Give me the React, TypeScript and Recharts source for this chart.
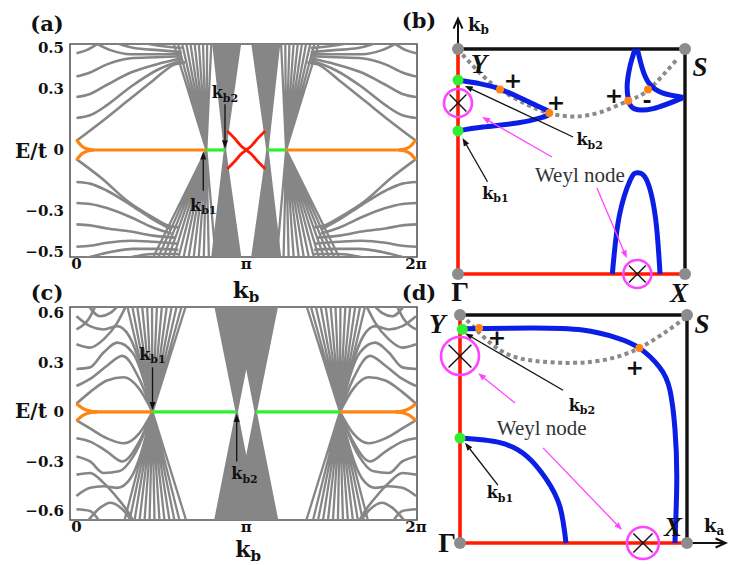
import React from 'react';
import { ComposedChart, Line, XAxis, YAxis, ReferenceLine, ReferenceDot, ReferenceArea } from 'recharts';

type P = [number, number];
type Row = { x: number; y: number | null };
type Fan = { apex: P; edge: number; ends: number[] };

const GRAY = '#868686';
const ORANGE = '#ff8412';
const GREEN = '#2ef02e';
const RED = '#ff1a00';
const BLUE = '#0a1ee6';
const MAGENTA = '#ff44ff';
const SERIF = '"DejaVu Serif", serif';
const TIMES = '"Liberation Serif", serif';

// ---------- band panels: k in units of pi, E in units of t ----------
const kTicks = [0, 1, 2];
const kDomain: [number, number] = [-0.038, 2.006];
const coneLevels = [0, 0.04, 0.08, 0.12, 0.16, 0.2, 0.24, 0.28, 0.32, 0.36, 0.4, 0.44, 0.48, 0.52, 0.56, 0.6, 0.64];

// (a) left half only, right half is the mirror image about k = pi
const aTicksE = [0.5, 0.3, 0, -0.3, -0.5];
const aUpper: P[][] = [
  [[0, 0.045], [0.15, 0.14], [0.3, 0.24], [0.45, 0.34], [0.58, 0.42], [0.64, 0.43]],
  [[0, 0.157], [0.08, 0.17], [0.18, 0.22], [0.32, 0.31], [0.47, 0.39], [0.62, 0.44]],
  [[0, 0.26], [0.08, 0.275], [0.18, 0.32], [0.32, 0.38], [0.47, 0.42], [0.62, 0.45]],
  [[0, 0.36], [0.08, 0.38], [0.18, 0.42], [0.32, 0.45], [0.47, 0.455], [0.62, 0.46]],
  [[0, 0.475], [0.06, 0.49], [0.14, 0.53]],
  [[0.1, 0.53], [0.2, 0.49], [0.32, 0.47], [0.47, 0.47], [0.62, 0.47]],
  [[0.22, 0.53], [0.34, 0.5], [0.48, 0.49], [0.62, 0.48]],
  [[0.36, 0.53], [0.5, 0.51], [0.62, 0.5]],
];
const aLower: P[][] = [
  [[0, -0.045], [0.15, -0.14], [0.3, -0.25], [0.45, -0.33], [0.54, -0.37], [0.6, -0.38]],
  [[0, -0.157], [0.08, -0.165], [0.18, -0.2], [0.32, -0.27], [0.45, -0.34], [0.56, -0.39]],
  [[0, -0.26], [0.08, -0.265], [0.18, -0.285], [0.32, -0.33], [0.45, -0.38], [0.56, -0.41]],
  [[0, -0.365], [0.08, -0.37], [0.18, -0.385], [0.32, -0.4], [0.45, -0.42], [0.58, -0.43]],
  [[0, -0.475], [0.08, -0.47], [0.18, -0.455], [0.32, -0.445], [0.45, -0.45], [0.6, -0.46]],
  [[0.06, -0.53], [0.2, -0.5], [0.34, -0.485], [0.48, -0.485], [0.6, -0.49]],
  [[0.3, -0.53], [0.45, -0.51], [0.6, -0.51]],
];
// hatched band bundles running into kb1
const aFans: Fan[] = [
  { apex: [0.765, 0], edge: 0.53, ends: [0.57, 0.595, 0.62, 0.645, 0.67, 0.695, 0.72, 0.745, 0.77, 0.795] },
  { apex: [0.765, 0], edge: -0.53, ends: [0.45, 0.48, 0.51, 0.54, 0.57, 0.6, 0.63, 0.66, 0.69, 0.72, 0.75, 0.78, 0.82] },
];
// chevron cones at kb2
const aConesUp: P[][] = [[[0.805, 0.53], [0.875, 0], [0.965, 0.53]]];
const aConesDown: P[][] = [[[0.8, -0.53], [0.875, 0], [0.965, -0.53]]];
const aOrange: P[][] = [
  [[0, 0.05], [0.03, 0.02], [0.06, 0.006], [0.1, 0]],
  [[0, -0.05], [0.03, -0.02], [0.06, -0.006], [0.1, 0]],
  [[0.08, 0], [0.765, 0]],
];
const aGreen: P[][] = [[[0.765, 0], [0.875, 0]]];
const aRed: P[] = [[0.888, 0.093], [0.93, 0.058], [0.97, 0.02], [1, 0], [1.03, -0.02], [1.07, -0.058], [1.112, -0.093]];

// (c)
const cTicksE = [0.6, 0.3, 0, -0.3, -0.6];
const cUpper: P[][] = [
  [[0, 0.05], [0.08, 0.12], [0.18, 0.19], [0.28, 0.21], [0.37, 0.14], [0.448, 0]],
  [[0, 0.157], [0.08, 0.2], [0.18, 0.28], [0.27, 0.34], [0.37, 0.2], [0.448, 0]],
  [[0, 0.26], [0.08, 0.27], [0.16, 0.36], [0.24, 0.42], [0.33, 0.36], [0.448, 0]],
  [[0, 0.41], [0.08, 0.39], [0.16, 0.44], [0.24, 0.54], [0.3, 0.66]],
  [[0, 0.5], [0.07, 0.56], [0.12, 0.66]],
  [[0, 0.58], [0.08, 0.52], [0.16, 0.5], [0.24, 0.52], [0.31, 0.46], [0.448, 0]],
  [[0.06, 0.66], [0.14, 0.58], [0.2, 0.6], [0.26, 0.66]],
];
const cLower: P[][] = [
  [[0, -0.05], [0.08, -0.1], [0.18, -0.16], [0.28, -0.19], [0.37, -0.13], [0.448, 0]],
  [[0, -0.16], [0.08, -0.18], [0.18, -0.24], [0.27, -0.3], [0.37, -0.18], [0.448, 0]],
  [[0, -0.27], [0.08, -0.3], [0.16, -0.37], [0.25, -0.36], [0.34, -0.26], [0.448, 0]],
  [[0, -0.38], [0.08, -0.37], [0.16, -0.43], [0.24, -0.52], [0.3, -0.6], [0.34, -0.67]],
  [[0, -0.51], [0.08, -0.46], [0.16, -0.45], [0.24, -0.46], [0.32, -0.4], [0.448, 0]],
  [[0, -0.59], [0.08, -0.6], [0.14, -0.67]],
  [[0.06, -0.67], [0.14, -0.58], [0.2, -0.55], [0.28, -0.6], [0.33, -0.67]],
];
const cFans: Fan[] = [
  { apex: [0.448, 0], edge: 0.66, ends: [0.295, 0.325, 0.355, 0.385, 0.415, 0.445, 0.475, 0.505, 0.535, 0.565, 0.595, 0.625, 0.65] },
  { apex: [0.448, 0], edge: -0.67, ends: [0.28, 0.31, 0.34, 0.37, 0.4, 0.43, 0.46, 0.49, 0.52, 0.55, 0.58, 0.61, 0.65] },
];
const cConesUp: P[][] = [[[0.815, 0.66], [0.944, 0], [1.07, 0.66]]];
const cConesDown: P[][] = [[[0.815, -0.67], [0.944, 0], [1.07, -0.67]]];
const cOrange: P[][] = [
  [[0, 0.05], [0.04, 0.02], [0.08, 0.005], [0.12, 0]],
  [[0, -0.055], [0.04, -0.02], [0.08, -0.005], [0.12, 0]],
  [[0.1, 0], [0.448, 0]],
];
const cGreen: P[][] = [[[0.448, 0], [0.944, 0]]];

// ---------- Brillouin-zone panels: unit square, Gamma at origin ----------
const zoneRed: P[] = [[0, 1], [0, 0], [1, 0]];
const zoneBlack: P[] = [[0, 1], [1, 1], [1, 0]];
const zoneCorners: P[] = [[0, 0], [0, 1], [1, 1], [1, 0]];

const bDotted: P[] = [[0.02, 0.975], [0.1, 0.89], [0.185, 0.82], [0.3, 0.755], [0.4, 0.715], [0.51, 0.7], [0.63, 0.72], [0.75, 0.77], [0.84, 0.82], [0.97, 0.96]];
const bArcs: P[][] = [
  [[0, 0.862], [0.1, 0.845], [0.185, 0.822], [0.28, 0.78], [0.36, 0.742], [0.405, 0.715], [0.36, 0.693], [0.26, 0.671], [0.11, 0.653], [0, 0.636]],
  [[0.78, 1], [0.757, 0.92], [0.745, 0.83], [0.752, 0.77], [0.775, 0.735], [0.86, 0.735], [0.995, 0.785]],
  [[0.79, 1], [0.81, 0.92], [0.84, 0.85], [0.9, 0.805], [0.995, 0.785]],
  [[0.68, 0], [0.71, 0.255], [0.76, 0.42], [0.79, 0.45], [0.83, 0.42], [0.87, 0.25], [0.89, 0]],
];
const bGreenDots: P[] = [[0, 0.862], [0, 0.636]];
const bOrangeDots: P[] = [[0.185, 0.82], [0.402, 0.716], [0.75, 0.77], [0.837, 0.82]];
const bWeyl: P[] = [[0, 0.76], [0.79, 0]];

const dDotted: P[] = [[0.03, 0.978], [0.176, 0.846], [0.32, 0.8], [0.47, 0.79], [0.617, 0.8], [0.79, 0.855], [0.99, 0.985]];
const dArcs: P[][] = [
  [[0.01, 0.94], [0.32, 0.943], [0.54, 0.934], [0.69, 0.9], [0.79, 0.855], [0.88, 0.77], [0.925, 0.67], [0.947, 0.5], [0.955, 0.28], [0.947, 0]],
  [[0, 0.46], [0.176, 0.44], [0.295, 0.38], [0.38, 0.28], [0.44, 0.16], [0.467, 0]],
];
const dGreenDots: P[] = [[0.01, 0.937], [0, 0.46]];
const dOrangeDots: P[] = [[0.084, 0.943], [0.79, 0.855]];
const dWeyl: P[] = [[0, 0.82], [0.806, 0]];

type Arrow = { from: P; to: P; kind: 'black' | 'magenta' | 'axis' };
type Label = { at: P; text: string; sub?: string; kind: 'k' | 'axis' | 'corner' | 'gamma' | 'sign' | 'weyl' };

const aArrows: Arrow[] = [
  { from: [0.875, 0.225], to: [0.875, 0.008], kind: 'black' },
  { from: [0.747, -0.2], to: [0.747, -0.008], kind: 'black' },
];
const aLabels: Label[] = [
  { at: [0.875, 0.28], text: 'k', sub: 'b2', kind: 'k' },
  { at: [0.747, -0.27], text: 'k', sub: 'b1', kind: 'k' },
];
const cArrows: Arrow[] = [
  { from: [0.448, 0.27], to: [0.448, 0.012], kind: 'black' },
  { from: [0.944, -0.3], to: [0.944, -0.012], kind: 'black' },
];
const cLabels: Label[] = [
  { at: [0.448, 0.35], text: 'k', sub: 'b1', kind: 'k' },
  { at: [0.99, -0.375], text: 'k', sub: 'b2', kind: 'k' },
];
const bArrows: Arrow[] = [
  { from: [0, 1], to: [0, 1.135], kind: 'axis' },
  { from: [0.507, 0.609], to: [0.03, 0.836], kind: 'black' },
  { from: [0.13, 0.41], to: [0.02, 0.604], kind: 'black' },
  { from: [0.414, 0.52], to: [0.106, 0.698], kind: 'magenta' },
  { from: [0.612, 0.382], to: [0.744, 0.07], kind: 'magenta' },
];
const bLabels: Label[] = [
  { at: [0.093, 0.933], text: 'Y', kind: 'corner' },
  { at: [1.066, 0.92], text: 'S', kind: 'corner' },
  { at: [0.01, -0.076], text: 'Γ', kind: 'gamma' },
  { at: [0.974, -0.084], text: 'X', kind: 'corner' },
  { at: [0.09, 1.107], text: 'k', sub: 'b', kind: 'axis' },
  { at: [0.58, 0.596], text: 'k', sub: 'b2', kind: 'k' },
  { at: [0.165, 0.36], text: 'k', sub: 'b1', kind: 'k' },
  { at: [0.537, 0.44], text: 'Weyl node', kind: 'weyl' },
  { at: [0.242, 0.858], text: '+', kind: 'sign' },
  { at: [0.432, 0.764], text: '+', kind: 'sign' },
  { at: [0.687, 0.795], text: '+', kind: 'sign' },
  { at: [0.833, 0.773], text: '-', kind: 'sign' },
];
const dArrows: Arrow[] = [
  { from: [1, 0], to: [1.17, 0], kind: 'axis' },
  { from: [0.454, 0.67], to: [0.022, 0.92], kind: 'black' },
  { from: [0.167, 0.254], to: [0.022, 0.44], kind: 'black' },
  { from: [0.242, 0.614], to: [0.08, 0.745], kind: 'magenta' },
  { from: [0.366, 0.417], to: [0.714, 0.057], kind: 'magenta' },
];
const dLabels: Label[] = [
  { at: [-0.1, 0.96], text: 'Y', kind: 'corner' },
  { at: [1.066, 0.96], text: 'S', kind: 'corner' },
  { at: [-0.057, 0.004], text: 'Γ', kind: 'gamma' },
  { at: [0.938, 0.07], text: 'X', kind: 'corner' },
  { at: [1.12, 0.075], text: 'k', sub: 'a', kind: 'axis' },
  { at: [0.537, 0.605], text: 'k', sub: 'b2', kind: 'k' },
  { at: [0.176, 0.22], text: 'k', sub: 'b1', kind: 'k' },
  { at: [0.36, 0.505], text: 'Weyl node', kind: 'weyl' },
  { at: [0.163, 0.9], text: '+', kind: 'sign' },
  { at: [0.77, 0.77], text: '+', kind: 'sign' },
];

// ---------- helpers ----------
const rows = (pts: P[]): Row[] => pts.map(([x, y]) => ({ x, y }));
const mirror = (pts: P[]): P[] => pts.map(([x, y]): P => [2 - x, y]).reverse();
// a cone of bands drawn as nested V's shifted along the energy axis
const nested = (cone: P[], sign: number): Row[] =>
  coneLevels.flatMap((l) => [...cone.map(([x, y]) => ({ x, y: y + sign * l })), { x: cone[cone.length - 1][0], y: null }]);
// a bundle of bands all meeting at one apex, as one broken path
const fanRows = (f: Fan, flip: boolean): Row[] =>
  f.ends.flatMap((e) => {
    const ax = flip ? 2 - f.apex[0] : f.apex[0];
    const ex = flip ? 2 - e : e;
    return [{ x: ax, y: f.apex[1] }, { x: ex, y: f.edge }, { x: ex, y: null }];
  });

const labelStyle = {
  k: { family: SERIF, size: 16, sub: 11, weight: 700, style: 'normal', color: '#111' },
  axis: { family: SERIF, size: 18, sub: 12, weight: 700, style: 'normal', color: '#111' },
  corner: { family: TIMES, size: 27, sub: 0, weight: 700, style: 'italic', color: '#111' },
  gamma: { family: TIMES, size: 28, sub: 0, weight: 700, style: 'normal', color: '#111' },
  sign: { family: '"DejaVu Sans", sans-serif', size: 22, sub: 0, weight: 700, style: 'normal', color: '#111' },
  weyl: { family: TIMES, size: 21, sub: 0, weight: 400, style: 'normal', color: '#333' },
};

const textShape = (lb: Label) => (p: any) => {
  const s = labelStyle[lb.kind];
  return (
    <text x={p.cx} y={p.cy} textAnchor="middle" dominantBaseline="central" fontFamily={s.family}
      fontSize={s.size} fontWeight={s.weight} fontStyle={s.style} fill={s.color}>
      {lb.text}
      {lb.sub ? <tspan fontSize={s.sub} dy={s.size * 0.3}>{lb.sub}</tspan> : null}
    </text>
  );
};

const arrowColor = { black: '#111', magenta: MAGENTA, axis: '#111' };
const arrowShape = (kind: Arrow['kind']) => (p: any) => {
  const { x1, y1, x2, y2 } = p;
  const c = arrowColor[kind];
  const a = Math.atan2(y2 - y1, x2 - x1);
  const len = kind === 'axis' ? 10 : 8;
  const w = kind === 'axis' ? 4.5 : 3;
  const bx = x2 - len * Math.cos(a);
  const by = y2 - len * Math.sin(a);
  const nx = -Math.sin(a) * w;
  const ny = Math.cos(a) * w;
  if (kind === 'axis') {
    return (
      <g>
        <line x1={x1} y1={y1} x2={x2} y2={y2} stroke={c} strokeWidth={2} />
        <polyline points={`${bx + nx},${by + ny} ${x2},${y2} ${bx - nx},${by - ny}`} fill="none" stroke={c} strokeWidth={2} />
      </g>
    );
  }
  return (
    <g>
      <line x1={x1} y1={y1} x2={bx} y2={by} stroke={c} strokeWidth={1.3} />
      <polygon points={`${x2},${y2} ${bx + nx},${by + ny} ${bx - nx},${by - ny}`} fill={c} />
    </g>
  );
};

const weylShape = (r: number) => (p: any) => {
  const d = r * 0.6;
  return (
    <g>
      <circle cx={p.cx} cy={p.cy} r={r} fill="none" stroke={MAGENTA} strokeWidth={2.6} />
      <line x1={p.cx - d} y1={p.cy - d} x2={p.cx + d} y2={p.cy + d} stroke="#111" strokeWidth={1.4} />
      <line x1={p.cx - d} y1={p.cy + d} x2={p.cx + d} y2={p.cy - d} stroke="#111" strokeWidth={1.4} />
    </g>
  );
};

const fmtK = (v: number) => (v === 0 ? '0' : v === 1 ? 'π' : '2π');
const fmtE = (v: number) => (v === 0 ? '0' : v < 0 ? `−${Math.abs(v)}` : `${v}`);
const tickFont = { fontFamily: SERIF, fontWeight: 700, fontSize: 15, fill: '#111' };

type BandProps = {
  top: number;
  yDomain: [number, number];
  yTicks: number[];
  upper: P[][];
  lower: P[][];
  fans: Fan[];
  conesUp: P[][];
  conesDown: P[][];
  orange: P[][];
  green: P[][];
  red?: P[];
  arrows: Arrow[];
  labels: Label[];
};

function BandPanel({ top, yDomain, yTicks, upper, lower, fans, conesUp, conesDown, orange, green, red, arrows, labels }: BandProps) {
  const grayCurves = [...upper, ...lower].flatMap((c) => [c, mirror(c)]);
  const cones = [
    ...conesUp.flatMap((c) => [nested(c, 1), nested(mirror(c), 1)]),
    ...conesDown.flatMap((c) => [nested(c, -1), nested(mirror(c), -1)]),
    ...fans.flatMap((f) => [fanRows(f, false), fanRows(f, true)]),
  ];
  const oranges = orange.flatMap((c) => [c, mirror(c)]);
  const greens = green.flatMap((c) => [c, mirror(c)]);
  const reds = red ? [red, mirror(red)] : [];
  return (
    <div style={{ position: 'absolute', left: 0, top }}>
      <ComposedChart width={430} height={290} margin={{ top: 44, right: 13, left: 10, bottom: 3 }}>
        <XAxis type="number" dataKey="x" domain={kDomain} ticks={kTicks} interval={0} tickFormatter={fmtK}
          allowDataOverflow axisLine={false} tickLine={false} tickSize={0} tickMargin={1} height={30} tick={tickFont} />
        <YAxis type="number" dataKey="y" domain={yDomain} ticks={yTicks} interval={0} tickFormatter={fmtE}
          allowDataOverflow axisLine={false} tickLine={false} tickSize={3} tickMargin={3} width={60} tick={tickFont} />
        {cones.map((d, i) => (
          <Line key={`cone${i}`} data={d} dataKey="y" type="linear" stroke={GRAY} strokeWidth={2.3} dot={false} isAnimationActive={false} />
        ))}
        {grayCurves.map((c, i) => (
          <Line key={`g${i}`} data={rows(c)} dataKey="y" type="monotone" stroke={GRAY} strokeWidth={2.6} dot={false} isAnimationActive={false} />
        ))}
        {oranges.map((c, i) => (
          <Line key={`o${i}`} data={rows(c)} dataKey="y" type="monotone" stroke={ORANGE} strokeWidth={3.2} dot={false} isAnimationActive={false} />
        ))}
        {greens.map((c, i) => (
          <Line key={`gr${i}`} data={rows(c)} dataKey="y" type="linear" stroke={GREEN} strokeWidth={3.2} dot={false} isAnimationActive={false} />
        ))}
        {reds.map((c, i) => (
          <Line key={`r${i}`} data={rows(c)} dataKey="y" type="monotone" stroke={RED} strokeWidth={2.8} dot={false} isAnimationActive={false} />
        ))}
        <ReferenceArea x1={kDomain[0]} x2={kDomain[1]} y1={yDomain[0]} y2={yDomain[1]} fill="none" stroke="#555" strokeWidth={1.6} ifOverflow="visible" />
        {arrows.map((a, i) => (
          <ReferenceLine key={`a${i}`} segment={[{ x: a.from[0], y: a.from[1] }, { x: a.to[0], y: a.to[1] }]} ifOverflow="visible" shape={arrowShape(a.kind)} />
        ))}
        {labels.map((lb, i) => (
          <ReferenceDot key={`l${i}`} x={lb.at[0]} y={lb.at[1]} r={0} ifOverflow="visible" shape={textShape(lb)} />
        ))}
      </ComposedChart>
    </div>
  );
}

type ZoneProps = {
  left: number;
  top: number;
  height: number;
  xDomain: [number, number];
  yDomain: [number, number];
  dotted: P[];
  arcs: P[][];
  greenDots: P[];
  orangeDots: P[];
  weyl: P[];
  weylRadius: number[];
  arrows: Arrow[];
  labels: Label[];
};

function ZonePanel({ left, top, height, xDomain, yDomain, dotted, arcs, greenDots, orangeDots, weyl, weylRadius, arrows, labels }: ZoneProps) {
  return (
    <div style={{ position: 'absolute', left, top }}>
      <ComposedChart width={335} height={height} margin={{ top: 0, right: 0, left: 0, bottom: 0 }}>
        <XAxis type="number" dataKey="x" domain={xDomain} hide allowDataOverflow />
        <YAxis type="number" dataKey="y" domain={yDomain} hide allowDataOverflow />
        <Line data={rows(zoneBlack)} dataKey="y" type="linear" stroke="#111" strokeWidth={3.4} dot={false} isAnimationActive={false} />
        <Line data={rows(zoneRed)} dataKey="y" type="linear" stroke={RED} strokeWidth={3.6} dot={false} isAnimationActive={false} />
        <Line data={rows(dotted)} dataKey="y" type="natural" stroke="#8a8a8a" strokeWidth={4} strokeDasharray="4 3.5" dot={false} isAnimationActive={false} />
        {arcs.map((c, i) => (
          <Line key={`arc${i}`} data={rows(c)} dataKey="y" type="natural" stroke={BLUE} strokeWidth={5} dot={false} isAnimationActive={false} />
        ))}
        {arrows.map((a, i) => (
          <ReferenceLine key={`a${i}`} segment={[{ x: a.from[0], y: a.from[1] }, { x: a.to[0], y: a.to[1] }]} ifOverflow="visible" shape={arrowShape(a.kind)} />
        ))}
        {zoneCorners.map((p, i) => (
          <ReferenceDot key={`c${i}`} x={p[0]} y={p[1]} r={6} fill="#8c8c8c" stroke="none" ifOverflow="visible" />
        ))}
        {greenDots.map((p, i) => (
          <ReferenceDot key={`gd${i}`} x={p[0]} y={p[1]} r={5.5} fill={GREEN} stroke="none" ifOverflow="visible" />
        ))}
        {orangeDots.map((p, i) => (
          <ReferenceDot key={`od${i}`} x={p[0]} y={p[1]} r={4} fill={ORANGE} stroke="none" ifOverflow="visible" />
        ))}
        {weyl.map((p, i) => (
          <ReferenceDot key={`w${i}`} x={p[0]} y={p[1]} r={0} ifOverflow="visible" shape={weylShape(weylRadius[i])} />
        ))}
        {labels.map((lb, i) => (
          <ReferenceDot key={`l${i}`} x={lb.at[0]} y={lb.at[1]} r={0} ifOverflow="visible" shape={textShape(lb)} />
        ))}
      </ComposedChart>
    </div>
  );
}

function Tag({ x, y, size, children }: { x: number; y: number; size: number; children: React.ReactNode }) {
  return (
    <div style={{ position: 'absolute', left: x, top: y, transform: 'translate(-50%, -50%)', fontFamily: SERIF,
      fontSize: size, fontWeight: 700, lineHeight: 1, whiteSpace: 'nowrap', color: '#111' }}>
      {children}
    </div>
  );
}

const kb = (
  <span>
    k<span style={{ fontSize: 15, position: 'relative', top: 4 }}>b</span>
  </span>
);

export default function App() {
  return (
    <div style={{ position: 'absolute', left: 0, top: 0, width: 735, height: 565, background: '#fff', overflow: 'hidden' }}>
      <BandPanel top={0} yDomain={[-0.525, 0.52]} yTicks={aTicksE} upper={aUpper} lower={aLower} fans={aFans}
        conesUp={aConesUp} conesDown={aConesDown} orange={aOrange} green={aGreen} red={aRed} arrows={aArrows} labels={aLabels} />
      <BandPanel top={263} yDomain={[-0.655, 0.636]} yTicks={cTicksE} upper={cUpper} lower={cLower} fans={cFans}
        conesUp={cConesUp} conesDown={cConesDown} orange={cOrange} green={cGreen} arrows={cArrows} labels={cLabels} />
      <ZonePanel left={400} top={0} height={320} xDomain={[-0.2555, 1.2203]} yDomain={[-0.2044, 1.2178]}
        dotted={bDotted} arcs={bArcs} greenDots={bGreenDots} orangeDots={bOrangeDots} weyl={bWeyl} weylRadius={[14, 14]}
        arrows={bArrows} labels={bLabels} />
      <ZonePanel left={400} top={280} height={285} xDomain={[-0.2643, 1.2115]} yDomain={[-0.0965, 1.1535]}
        dotted={dDotted} arcs={dArcs} greenDots={dGreenDots} orangeDots={dOrangeDots} weyl={dWeyl} weylRadius={[19, 16]}
        arrows={dArrows} labels={dLabels} />
      <Tag x={47} y={23} size={21}>(a)</Tag>
      <Tag x={419} y={20} size={21}>(b)</Tag>
      <Tag x={47} y={292} size={21}>(c)</Tag>
      <Tag x={419} y={292} size={21}>(d)</Tag>
      <Tag x={31} y={151} size={20}>E/t</Tag>
      <Tag x={31} y={411} size={20}>E/t</Tag>
      <Tag x={246} y={289} size={23}>{kb}</Tag>
      <Tag x={248} y={549} size={22}>{kb}</Tag>
    </div>
  );
}
